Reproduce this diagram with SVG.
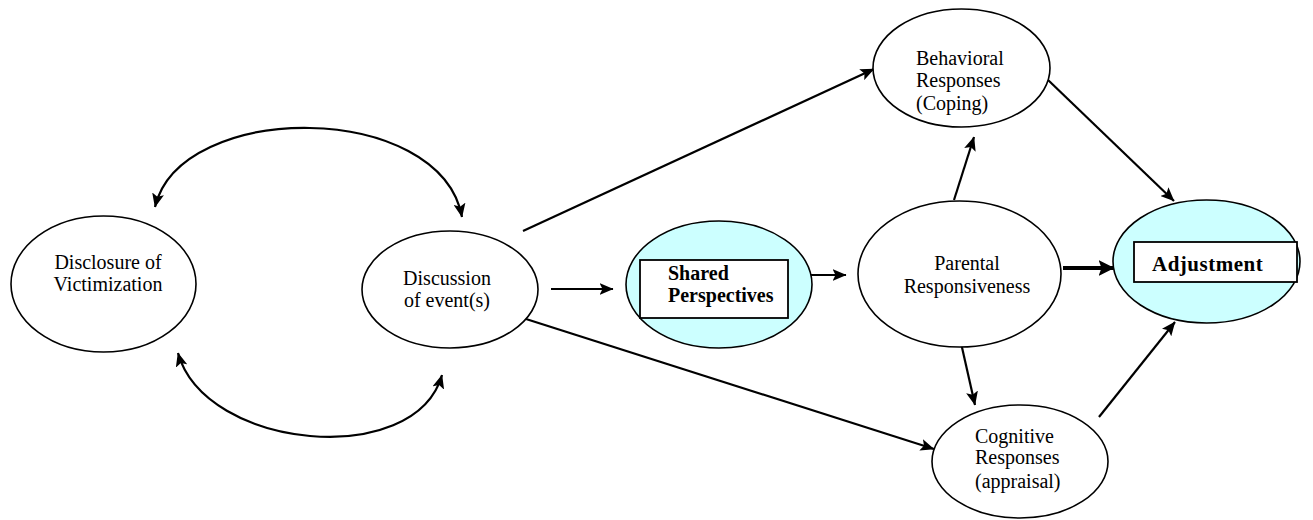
<svg xmlns="http://www.w3.org/2000/svg" width="1313" height="520" viewBox="0 0 1313 520">
<style>
.node{fill:#fff;stroke:#000;stroke-width:1.6}
.hl{fill:#ccffff;stroke:#000;stroke-width:1.6}
.box{fill:#fff;stroke:#000;stroke-width:1.8}
.t{font-family:"Liberation Serif","Times New Roman",serif;font-size:20px;fill:#000}
.b{font-family:"Liberation Serif","Times New Roman",serif;font-size:20px;font-weight:bold;fill:#000}
.c{fill:none;stroke:#000;stroke-width:2.2}
.thick{fill:none;stroke:#000;stroke-width:4}
</style>
<defs>
<marker id="ah" viewBox="0 0 14 12" refX="13.5" refY="6" markerWidth="14" markerHeight="12" markerUnits="userSpaceOnUse" orient="auto-start-reverse">
<path d="M0,0 L14,6 L0,12 L3,6 z" fill="#000"/>
</marker>
<marker id="ahb" viewBox="0 0 16 16" refX="15.5" refY="8" markerWidth="16" markerHeight="16" markerUnits="userSpaceOnUse" orient="auto">
<path d="M0,0 L16,8 L0,16 L3,8 z" fill="#000"/>
</marker>
</defs>
<g id="connectors">
<path class="c" d="M155,207 C180,100 440,100 462,217" marker-start="url(#ah)" marker-end="url(#ah)"/>
<path class="c" d="M178,353 C205,450 415,470 442,375" marker-start="url(#ah)" marker-end="url(#ah)"/>
<line class="c" x1="551" y1="289" x2="613" y2="289" marker-end="url(#ah)"/>
<line class="c" x1="523" y1="231" x2="874" y2="69" marker-end="url(#ah)"/>
<line class="c" x1="526" y1="319" x2="934" y2="449" marker-end="url(#ah)"/>
<line class="c" x1="811" y1="275" x2="846" y2="275" marker-end="url(#ah)"/>
<line class="thick" x1="1063" y1="268" x2="1114" y2="268" marker-end="url(#ahb)"/>
<line class="c" x1="954" y1="200" x2="974" y2="137" marker-end="url(#ah)"/>
<line class="c" x1="961" y1="343" x2="975" y2="405" marker-end="url(#ah)"/>
<line class="c" x1="1047" y1="79" x2="1174" y2="201" marker-end="url(#ah)"/>
<line class="c" x1="1099" y1="417" x2="1175" y2="322" marker-end="url(#ah)"/>
</g>
<g id="disclosure">
<ellipse class="node" cx="103.5" cy="284" rx="92.5" ry="68"/>
<text class="t" x="108" y="269" text-anchor="middle">Disclosure of</text>
<text class="t" x="108" y="291" text-anchor="middle">Victimization</text>
</g>
<g id="discussion">
<ellipse class="node" cx="450" cy="289.5" rx="88" ry="58.5"/>
<text class="t" x="447" y="285" text-anchor="middle">Discussion</text>
<text class="t" x="447" y="307" text-anchor="middle">of event(s)</text>
</g>
<g id="shared">
<ellipse class="hl" cx="719" cy="284.5" rx="93" ry="63.5"/>
<rect class="box" x="640" y="260" width="148" height="58"/>
<text class="b" x="668" y="280">Shared</text>
<text class="b" x="668" y="302">Perspectives</text>
</g>
<g id="parental">
<ellipse class="node" cx="959.5" cy="274" rx="101.5" ry="73"/>
<text class="t" x="967" y="270" text-anchor="middle">Parental</text>
<text class="t" x="967" y="293" text-anchor="middle">Responsiveness</text>
</g>
<g id="behavioral">
<ellipse class="node" cx="961.5" cy="68" rx="88.5" ry="59"/>
<text class="t" x="916" y="65">Behavioral</text>
<text class="t" x="916" y="87">Responses</text>
<text class="t" x="916" y="110">(Coping)</text>
</g>
<g id="cognitive">
<ellipse class="node" cx="1020" cy="461.5" rx="88" ry="56.5"/>
<text class="t" x="975" y="443">Cognitive</text>
<text class="t" x="975" y="464">Responses</text>
<text class="t" x="975" y="488">(appraisal)</text>
</g>
<g id="adjustment">
<ellipse class="hl" cx="1206.5" cy="261.5" rx="93.5" ry="61.5"/>
<rect class="box" x="1134" y="242" width="163" height="40"/>
<text class="b" x="1152" y="271" style="font-size:21px;letter-spacing:0.5px">Adjustment</text>
</g>
</svg>
